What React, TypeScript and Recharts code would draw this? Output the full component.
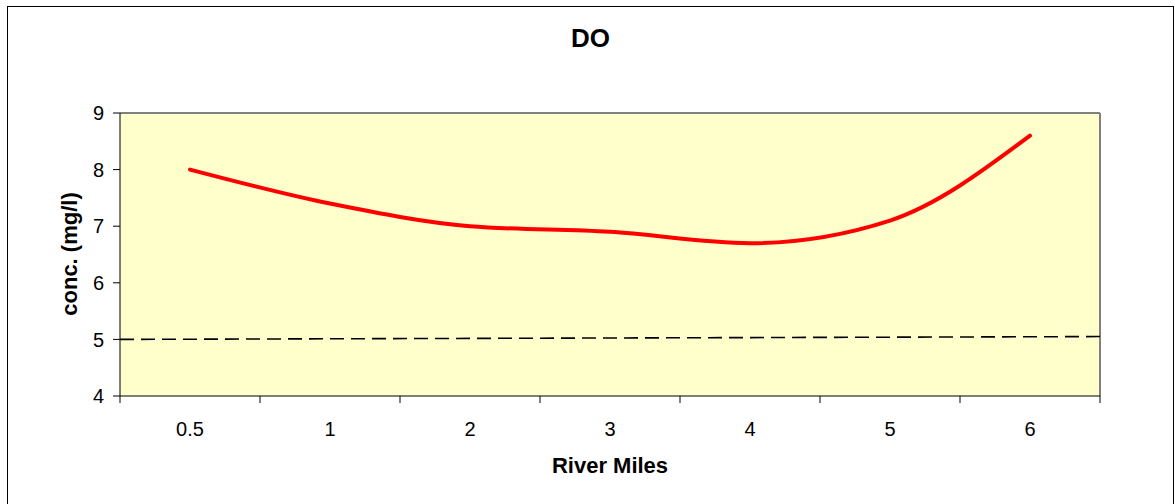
import { LineChart, Line, XAxis, YAxis, CartesianGrid, ReferenceLine } from 'recharts';

const riverMiles = ['0.5', '1', '2', '3', '4', '5', '6'];
const doValues = [8.0, 7.4, 7.0, 6.9, 6.7, 7.1, 8.6];
const yTicks = [4, 5, 6, 7, 8, 9];
// standard line (5 mg/l), drawn edge to edge of the plot
const standardStart = 5.0;
const standardEnd = 5.05;

const chartData = riverMiles.map((m, i) => ({ mile: m, pos: i + 0.5, conc: doValues[i] }));

const FONT = '"Liberation Sans", Arial, sans-serif';
const HALF = 70; // half a category slot

// Excel-style category tick: label in the middle, tick marks on the boundaries
function MileTick(props: any) {
  const { x, y, payload, index, visibleTicksCount } = props;
  const axisY = y - 15;
  return (
    <g>
      <line x1={x - HALF} y1={axisY} x2={x - HALF} y2={axisY + 7} stroke="#000" />
      {index === visibleTicksCount - 1 && (
        <line x1={x + HALF} y1={axisY} x2={x + HALF} y2={axisY + 7} stroke="#000" />
      )}
      <text x={x} y={y + 25} textAnchor="middle" fill="#000" fontSize={20} fontFamily={FONT}>
        {payload.value}
      </text>
    </g>
  );
}

export default function App() {
  return (
    <div style={{ position: 'absolute', left: 0, top: 0, width: 1175, height: 504, background: '#fff', overflow: 'hidden' }}>
      <div style={{ position: 'absolute', left: 7, top: 6, width: 1165, height: 520, border: '1px solid #000' }} />
      <div
        style={{
          position: 'absolute', left: 0, width: 1181, top: 23, textAlign: 'center',
          fontFamily: FONT, fontWeight: 'bold', fontSize: 26, lineHeight: '30px',
        }}
      >
        DO
      </div>
      <div
        style={{
          position: 'absolute', left: 120, width: 980, top: 453, textAlign: 'center',
          fontFamily: FONT, fontWeight: 'bold', fontSize: 22, lineHeight: '26px',
        }}
      >
        River Miles
      </div>
      <div
        style={{
          position: 'absolute', left: 70, top: 254, width: 200, marginLeft: -100, marginTop: -13,
          textAlign: 'center', transform: 'rotate(-90deg)',
          fontFamily: FONT, fontWeight: 'bold', fontSize: 22, lineHeight: '26px',
        }}
      >
        conc. (mg/l)
      </div>
      <div style={{ position: 'absolute', left: 0, top: 0 }}>
        <LineChart width={1175} height={504} data={chartData} margin={{ top: 113, right: 75, bottom: 48, left: 60 }}>
          <CartesianGrid horizontal={false} vertical={false} fill="#ffffcc" />
          <XAxis
            dataKey="mile"
            height={60}
            padding={{ left: HALF, right: HALF }}
            axisLine={{ stroke: '#000' }}
            tickLine={false}
            tickSize={7}
            tickMargin={8}
            interval={0}
            tick={<MileTick />}
          />
          <XAxis xAxisId="lin" dataKey="pos" type="number" domain={[0, 7]} allowDataOverflow hide />
          <YAxis
            domain={[4, 9]}
            ticks={yTicks}
            width={60}
            axisLine={{ stroke: '#000' }}
            tickLine={{ stroke: '#000' }}
            tickSize={7}
            tickMargin={9}
            tick={{ fill: '#000', fontSize: 20, fontFamily: FONT }}
          />
          {/* grey plot-area frame on top and right */}
          <ReferenceLine xAxisId="lin" y={9} stroke="#808080" strokeWidth={2} ifOverflow="visible" />
          <ReferenceLine xAxisId="lin" x={7} stroke="#808080" strokeWidth={2} ifOverflow="visible" />
          <ReferenceLine
            xAxisId="lin"
            segment={[{ x: 0, y: standardStart }, { x: 7, y: standardEnd }]}
            stroke="#000"
            strokeWidth={1.6}
            strokeDasharray="14 7"
            ifOverflow="visible"
          />
          <Line
            type="monotone"
            dataKey="conc"
            stroke="#ff0000"
            strokeWidth={4}
            strokeLinecap="round"
            dot={false}
            isAnimationActive={false}
          />
        </LineChart>
      </div>
    </div>
  );
}
